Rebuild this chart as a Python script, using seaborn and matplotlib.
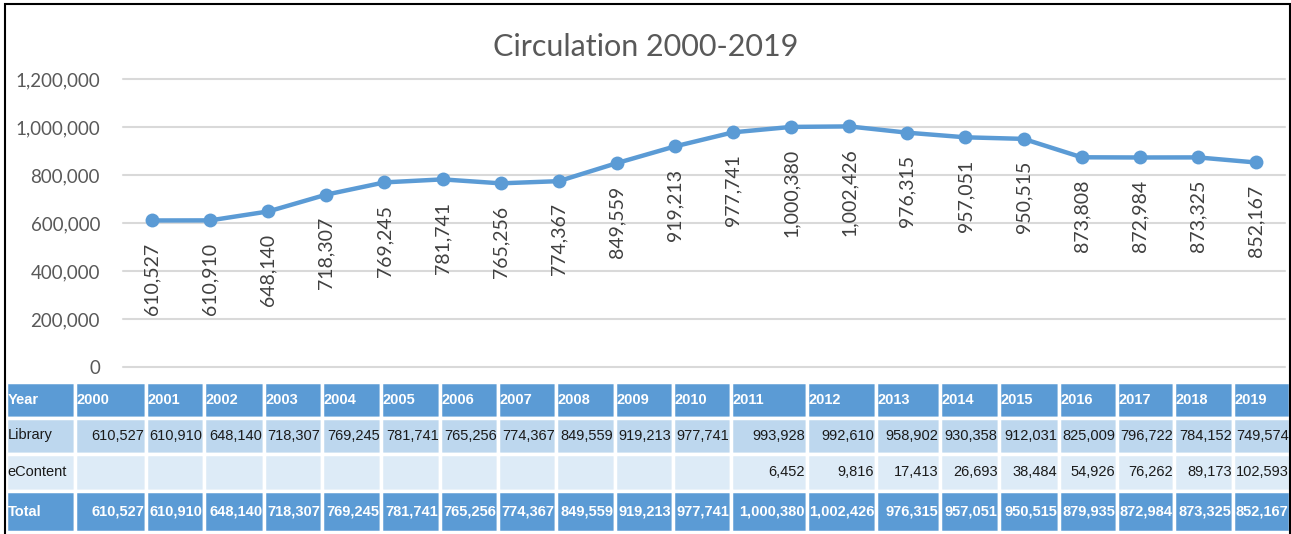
import matplotlib
matplotlib.use("Agg")
import matplotlib.pyplot as plt
import seaborn as sns
import pandas as pd
from matplotlib.table import Table
from matplotlib.patches import Rectangle
from matplotlib.ticker import FuncFormatter

# datos
years = list(range(2000, 2020))
circulation = [610527, 610910, 648140, 718307, 769245, 781741, 765256, 774367, 849559, 919213,
               977741, 1000380, 1002426, 976315, 957051, 950515, 873808, 872984, 873325, 852167]
library = [610527, 610910, 648140, 718307, 769245, 781741, 765256, 774367, 849559, 919213,
           977741, 993928, 992610, 958902, 930358, 912031, 825009, 796722, 784152, 749574]
econtent = [None] * 11 + [6452, 9816, 17413, 26693, 38484, 54926, 76262, 89173, 102593]
total = [610527, 610910, 648140, 718307, 769245, 781741, 765256, 774367, 849559, 919213,
         977741, 1000380, 1002426, 976315, 957051, 950515, 879935, 872984, 873325, 852167]
row_names = ["Year", "Library", "eContent", "Total"]
y_ticks = [0, 200000, 400000, 600000, 800000, 1000000, 1200000]

df = pd.DataFrame({"Year": years, "Circulation": circulation})

sns.set_theme(style="white")
plt.rcParams["font.family"] = ["Lato", "DejaVu Sans"]

W, H = 1291, 534
fig = plt.figure(figsize=(W / 100, H / 100), dpi=100)

blue = "#5B9BD5"
ax = fig.add_axes([123 / W, (H - 367) / H, 1162 / W, 288 / H])
sns.lineplot(data=df, x="Year", y="Circulation", ax=ax, color=blue, linewidth=3.2,
             marker="o", markersize=10, markeredgewidth=0)

for x, y in zip(df["Year"], df["Circulation"]):
    ax.annotate(f"{y:,}", (x, y), xytext=(0, -16), textcoords="offset points",
                rotation=90, ha="center", va="top", fontsize=14, color="#404040")

ax.set_xlim(1999.5, 2019.5)
ax.set_ylim(0, 1200000)
ax.set_yticks(y_ticks)
ax.yaxis.set_major_formatter(FuncFormatter(lambda v, p: f"{v:,.0f}"))
ax.set_xticks([])
ax.set_xlabel("")
ax.set_ylabel("")
ax.tick_params(axis="y", length=0, pad=16.5, labelsize=13.5, labelcolor="#595959")
ax.grid(axis="y", color="#D9D9D9", linewidth=1.5)
ax.set_axisbelow(True)
for s in ax.spines.values():
    s.set_visible(False)
for gl in ax.get_ygridlines():
    gl.set_clip_on(False)

fig.text(646 / W, 1 - 47 / H, "Circulation 2000-2019", ha="center", va="center",
         fontsize=22, color="#595959")

# tabla de datos
col_w = [69, 71, 58, 60, 58, 59, 59, 58, 58, 59, 58, 58, 76, 69, 64, 59, 60, 58, 57, 59, 57]
row_h = [35.5, 36, 37.5, 41]
fills = [blue, "#BDD7EE", "#DDEBF7", blue]

rows = [
    [row_names[0]] + [str(y) for y in years],
    [row_names[1]] + [f"{v:,}" for v in library],
    [row_names[2]] + ["" if v is None else f"{v:,}" for v in econtent],
    [row_names[3]] + [f"{v:,}" for v in total],
]

tax = fig.add_axes([6 / W, (H - 532) / H, 1284 / W, 150 / H])
tax.axis("off")
tbl = Table(tax, bbox=[0, 0, 1, 1])
for r, row in enumerate(rows):
    for c, txt in enumerate(row):
        loc = "left" if (r == 0 or c == 0) else "right"
        cell = tbl.add_cell(r, c, width=col_w[c], height=row_h[r], text=txt, loc=loc,
                            facecolor=fills[r], edgecolor="white")
        cell.set_linewidth(2.5)
        cell.PAD = 0.025
        bold = r in (0, 3)
        cell.set_text_props(color="white" if bold else "#1a1a1a",
                            fontweight="bold" if bold else "normal",
                            family=["Liberation Sans", "DejaVu Sans"])
tbl.auto_set_font_size(False)
tbl.set_fontsize(10.5)
tax.add_table(tbl)

fig.add_artist(Rectangle((5 / W, -0.01), 1285 / W, 1.01 - 4 / H, transform=fig.transFigure,
                         fill=False, edgecolor="black", linewidth=1.5))

fig.savefig("out.png", dpi=100)
